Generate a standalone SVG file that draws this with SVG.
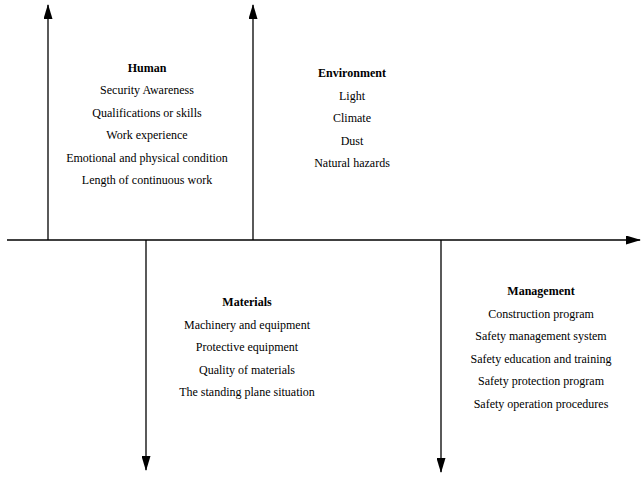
<svg xmlns="http://www.w3.org/2000/svg" width="641" height="477" viewBox="0 0 641 477">
<style>
text{font-family:"Liberation Serif","Times New Roman",serif;font-size:12px;fill:#000;text-anchor:middle}
.t{font-weight:bold}
.ln{stroke:#000;stroke-width:1.3;fill:none}
</style>
<defs>
<marker id="ah" markerWidth="15" markerHeight="9" refX="14" refY="4.5" orient="auto" markerUnits="userSpaceOnUse">
<path d="M0,0 L15,4.5 L0,9 Z" fill="#000"/>
</marker>
</defs>
<rect width="641" height="477" fill="#fff"/>
<g id="connectors">
<line class="ln" x1="7" y1="240" x2="640" y2="240" marker-end="url(#ah)"/>
<line class="ln" x1="48" y1="240" x2="48" y2="5" marker-end="url(#ah)"/>
<line class="ln" x1="253" y1="240" x2="253" y2="5" marker-end="url(#ah)"/>
<line class="ln" x1="146" y1="240" x2="146" y2="470" marker-end="url(#ah)"/>
<line class="ln" x1="441" y1="240" x2="441" y2="472" marker-end="url(#ah)"/>
</g>
<g id="human">
<text class="t" x="147" y="72">Human</text>
<text x="147" y="94">Security Awareness</text>
<text x="147" y="116.5">Qualifications or skills</text>
<text x="147" y="139">Work experience</text>
<text x="147" y="161.5">Emotional and physical condition</text>
<text x="147" y="184">Length of continuous work</text>
</g>
<g id="environment">
<text class="t" x="352" y="77">Environment</text>
<text x="352" y="99.5">Light</text>
<text x="352" y="122">Climate</text>
<text x="352" y="144.5">Dust</text>
<text x="352" y="167">Natural hazards</text>
</g>
<g id="materials">
<text class="t" x="247" y="306">Materials</text>
<text x="247" y="328.5">Machinery and equipment</text>
<text x="247" y="351">Protective equipment</text>
<text x="247" y="373.5">Quality of materials</text>
<text x="247" y="396">The standing plane situation</text>
</g>
<g id="management">
<text class="t" x="541" y="295">Management</text>
<text x="541" y="317.5">Construction program</text>
<text x="541" y="340">Safety management system</text>
<text x="541" y="362.5">Safety education and training</text>
<text x="541" y="385">Safety protection program</text>
<text x="541" y="407.5">Safety operation procedures</text>
</g>
</svg>
